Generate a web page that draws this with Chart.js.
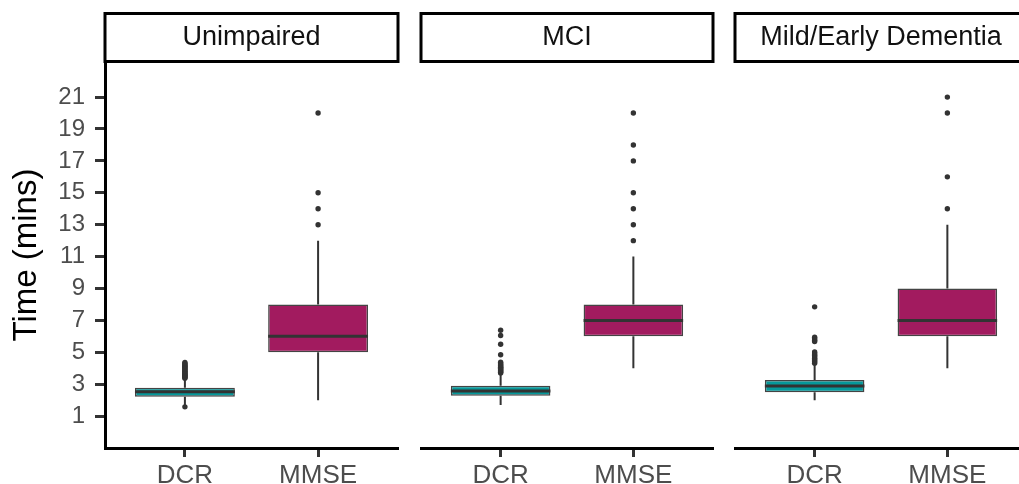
<!DOCTYPE html>
<html>
<head>
<meta charset="utf-8">
<script src="https://cdn.jsdelivr.net/npm/chart.js@4/dist/chart.umd.min.js"></script>
<style>
  html, body { margin: 0; padding: 0; background: #fff; }
  #wrap { position: relative; width: 1019px; height: 484px; overflow: hidden; }
  #wrap canvas { position: absolute; top: 0; }
</style>
</head>
<body>
<div id="wrap">
  <canvas id="p0" width="402" height="484" style="left:0px"></canvas>
  <canvas id="p1" width="300" height="484" style="left:417px"></canvas>
  <canvas id="p2" width="300" height="484" style="left:731px"></canvas>
</div>
<script>
// ================= DATA =================
const panels = ["Unimpaired", "MCI", "Mild/Early Dementia"];
const categories = ["DCR", "MMSE"];
const yTicks = [1, 3, 5, 7, 9, 11, 13, 15, 17, 19, 21];

// box stats per panel, [DCR, MMSE]
const lowWhisker = [[1.7, 2], [1.7, 4], [2.0, 4]];
const q1 = [[2.22, 5], [2.27, 6], [2.49, 6]];
const median = [[2.52, 6], [2.57, 7], [2.88, 7]];
const q3 = [[2.78, 8], [2.9, 8], [3.26, 9]];
const highWhisker = [[3.35, 12], [3.65, 11], [4.25, 13]];

const outliersDCR = [
  [1.58, 3.38, 3.42, 3.47, 3.5, 3.56, 3.6, 3.63, 3.7, 3.74, 3.8, 3.83, 3.9, 3.96, 4.0, 4.07, 4.12, 4.18, 4.22, 4.3, 4.36],
  [3.7, 3.75, 3.8, 3.86, 3.9, 3.95, 4.0, 4.06, 4.1, 4.17, 4.22, 4.3, 4.38, 4.85, 5.5, 6.05, 6.38],
  [4.32, 4.4, 4.47, 4.55, 4.62, 4.7, 4.78, 4.85, 4.95, 5.02, 5.68, 5.75, 5.85, 5.95, 7.85]
];
const outliersMMSE = [
  [13, 14, 15, 20],
  [12, 13, 14, 15, 17, 18, 20],
  [14, 16, 20, 21]
];

const boxColors = ["#06999b", "#a21b5f"];
const FONT = "'Liberation Sans', Arial, sans-serif";

// ================= PLUGINS =================
const whiskerPlugin = {
  id: "whiskers",
  afterDatasetsDraw(chart) {
    const i = chart.options.plugins.whiskers.panel;
    const x = chart.scales.x, y = chart.scales.y;
    const ctx = chart.ctx;
    const meta = chart.getDatasetMeta(0);
    ctx.save();
    ctx.strokeStyle = "#333";
    categories.forEach((c, k) => {
      const px = x.getPixelForValue(k + 1);
      // whiskers
      ctx.lineWidth = 2;
      ctx.beginPath();
      ctx.moveTo(px, y.getPixelForValue(q3[i][k]));
      ctx.lineTo(px, y.getPixelForValue(highWhisker[i][k]));
      ctx.moveTo(px, y.getPixelForValue(q1[i][k]));
      ctx.lineTo(px, y.getPixelForValue(lowWhisker[i][k]));
      ctx.stroke();
      // median
      const bar = meta.data[k];
      const half = bar.width / 2;
      ctx.lineWidth = 3;
      ctx.beginPath();
      const my = y.getPixelForValue(median[i][k]);
      ctx.moveTo(px - half, my);
      ctx.lineTo(px + half, my);
      ctx.stroke();
    });
    ctx.restore();
  }
};

const stripPlugin = {
  id: "strip",
  afterDraw(chart) {
    const i = chart.options.plugins.strip.panel;
    const { left, right } = chart.chartArea;
    const ctx = chart.ctx;
    ctx.save();
    ctx.fillStyle = "#fff";
    ctx.fillRect(left, 13.5, right - left, 48);
    ctx.lineWidth = 3;
    ctx.strokeStyle = "#000";
    ctx.strokeRect(left, 13.5, right - left, 48);
    ctx.fillStyle = "#111";
    ctx.font = "27px " + FONT;
    ctx.textAlign = "center";
    ctx.textBaseline = "middle";
    ctx.fillText(panels[i], (left + right) / 2, 38);
    ctx.restore();
  }
};

// ================= CHARTS =================
function makePanel(i) {
  const first = i === 0;
  const outPts = [];
  outliersDCR[i].forEach(v => outPts.push({ x: 1, y: v }));
  outliersMMSE[i].forEach(v => outPts.push({ x: 2, y: v }));

  new Chart(document.getElementById("p" + i), {
    type: "bar",
    data: {
      datasets: [
        {
          type: "bar",
          data: categories.map((c, k) => ({ x: k + 1, y: [q1[i][k], q3[i][k]] })),
          backgroundColor: boxColors,
          borderColor: "#444",
          borderWidth: 1.5,
          borderSkipped: false,
          categoryPercentage: 1,
          barPercentage: 0.75
        },
        {
          type: "scatter",
          data: outPts,
          backgroundColor: "#333",
          borderWidth: 0,
          pointRadius: 2.7
        }
      ]
    },
    plugins: [whiskerPlugin, stripPlugin],
    options: {
      responsive: false,
      animation: false,
      layout: { padding: { top: 62, right: 2, left: first ? 0 : 2, bottom: 0 } },
      plugins: {
        legend: { display: false },
        tooltip: { enabled: false },
        whiskers: { panel: i },
        strip: { panel: i }
      },
      scales: {
        x: {
          type: "linear",
          min: 0.4,
          max: 2.6,
          offset: false,
          afterBuildTicks: s => { s.ticks = categories.map((c, k) => ({ value: k + 1 })); },
          afterFit: s => { s.height = 36; },
          ticks: {
            callback: v => categories[v - 1],
            color: "#4d4d4d",
            font: { family: FONT, size: 26 },
            padding: 3,
            maxRotation: 0
          },
          grid: { offset: false, drawOnChartArea: false, tickLength: 9, tickWidth: 3, tickColor: "#333" },
          border: { color: "#000", width: 3 }
        },
        y: {
          display: first,
          min: -1,
          max: 23.2,
          afterBuildTicks: s => { s.ticks = yTicks.map(v => ({ value: v })); },
          afterFit: s => { if (first) s.width = 105; },
          ticks: {
            color: "#4d4d4d",
            font: { family: FONT, size: 24 },
            padding: 10
          },
          grid: { drawOnChartArea: false, tickLength: 10, tickWidth: 3, tickColor: "#333" },
          border: { color: "#000", width: 3 },
          title: {
            display: true,
            text: "Time (mins)",
            color: "#000",
            font: { family: FONT, size: 33 },
            padding: { top: 7, bottom: 0 }
          }
        }
      }
    }
  });
}

panels.forEach((p, i) => makePanel(i));
</script>
</body>
</html>
